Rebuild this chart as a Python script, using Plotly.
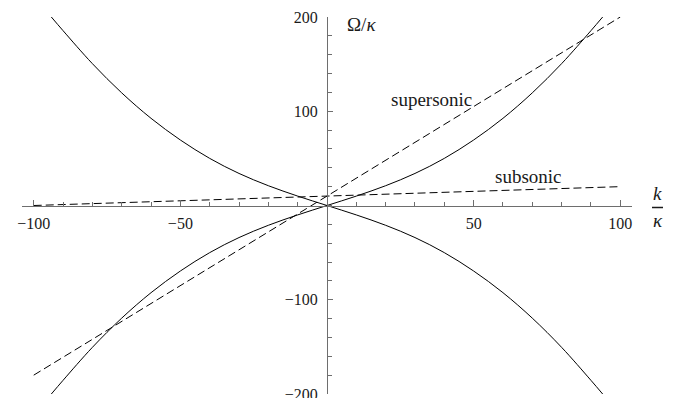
import plotly.graph_objects as go

# Dispersion branches Omega/kappa versus k/kappa
k_branch = [-94, -90, -80, -70, -60, -50, -40, -30, -20, -10, 0,
            10, 20, 30, 40, 50, 60, 70, 80, 90, 94]
omega_rising = [-200, -185.5, -150.5, -119.5, -92.5, -69.5, -50, -34, -21,
                -10, 0, 10, 21, 34, 50, 69.5, 92.5, 119.5, 150.5, 185.5, 200]
omega_falling = [200, 185.5, 150.5, 119.5, 92.5, 69.5, 50, 34, 21, 10, 0,
                 -10, -21, -34, -50, -69.5, -92.5, -119.5, -150.5, -185.5,
                 -200]

# Straight flow lines
k_line = [-100, 100]
omega_supersonic = [-180, 200]
omega_subsonic = [0, 20]

x_tick_vals = [-100, -50, 50, 100]
x_tick_text = ["\u2212100", "\u221250", "50", "100"]
y_tick_vals = [-200, -100, 100, 200]
y_tick_text = ["\u2212200", "\u2212100", "100", "200"]

FONT = "Liberation Serif, Times New Roman, serif"
AXIS_COLOR = "#6e6e6e"
TEXT_COLOR = "#1a1a1a"

fig = go.Figure()

for ys in (omega_rising, omega_falling):
    fig.add_trace(go.Scatter(
        x=k_branch, y=ys, mode="lines",
        line=dict(color="black", width=1, shape="spline", smoothing=1.0),
        hoverinfo="skip", showlegend=False))

for ys in (omega_supersonic, omega_subsonic):
    fig.add_trace(go.Scatter(
        x=k_line, y=ys, mode="lines",
        line=dict(color="black", width=1, dash="8px,4px"),
        hoverinfo="skip", showlegend=False))

fig.update_layout(
    width=683, height=398,
    margin=dict(l=22, r=51, t=17, b=4),
    paper_bgcolor="white", plot_bgcolor="white",
    font=dict(family=FONT, size=16, color=TEXT_COLOR),
    xaxis=dict(
        range=[-104, 104], anchor="free", position=0.5, side="bottom",
        automargin=False,
        showgrid=False, zeroline=False,
        showline=True, linecolor=AXIS_COLOR, linewidth=1,
        tickmode="array", tickvals=x_tick_vals, ticktext=x_tick_text,
        ticks="inside", ticklen=6, tickcolor=AXIS_COLOR, tickwidth=1,
        ticklabelstandoff=3, ticklabeloverflow="allow",
        minor=dict(tickmode="linear", tick0=0, dtick=10, ticks="inside",
                   ticklen=3.5, tickcolor=AXIS_COLOR, tickwidth=1),
        tickfont=dict(family=FONT, size=16, color=TEXT_COLOR),
    ),
    yaxis=dict(
        range=[-200, 200], anchor="free", position=0.5, side="left",
        automargin=False,
        showgrid=False, zeroline=False,
        showline=True, linecolor=AXIS_COLOR, linewidth=1,
        tickmode="array", tickvals=y_tick_vals, ticktext=y_tick_text,
        ticks="inside", ticklen=5, tickcolor=AXIS_COLOR, tickwidth=1,
        ticklabelstandoff=6, ticklabeloverflow="allow",
        minor=dict(tickmode="linear", tick0=0, dtick=20, ticks="inside",
                   ticklen=3.5, tickcolor=AXIS_COLOR, tickwidth=1),
        tickfont=dict(family=FONT, size=16, color=TEXT_COLOR),
    ),
)

label_font = dict(family=FONT, size=19, color=TEXT_COLOR)

fig.add_annotation(x=6, y=192, xref="x", yref="y", text="\u03a9/<i>\u03ba</i>",
                   showarrow=False, xanchor="left", yanchor="middle", font=label_font)
fig.add_annotation(x=35.5, y=112, xref="x", yref="y", text="supersonic",
                   showarrow=False, xanchor="center", yanchor="middle", font=label_font)
fig.add_annotation(x=68.7, y=31, xref="x", yref="y", text="subsonic",
                   showarrow=False, xanchor="center", yanchor="middle", font=label_font)

# k / kappa fraction at the end of the horizontal axis
fig.add_annotation(x=1.042, y=0.533, xref="paper", yref="paper", text="<i>k</i>",
                   showarrow=False, xanchor="center", yanchor="middle", font=label_font)
fig.add_annotation(x=1.042, y=0.461, xref="paper", yref="paper", text="<i>\u03ba</i>",
                   showarrow=False, xanchor="center", yanchor="middle", font=label_font)
fig.add_shape(type="line", xref="paper", yref="paper",
              x0=1.0328, x1=1.0508, y0=0.4947, y1=0.4947,
              line=dict(color=TEXT_COLOR, width=1.5))

fig.write_html("out.html")
